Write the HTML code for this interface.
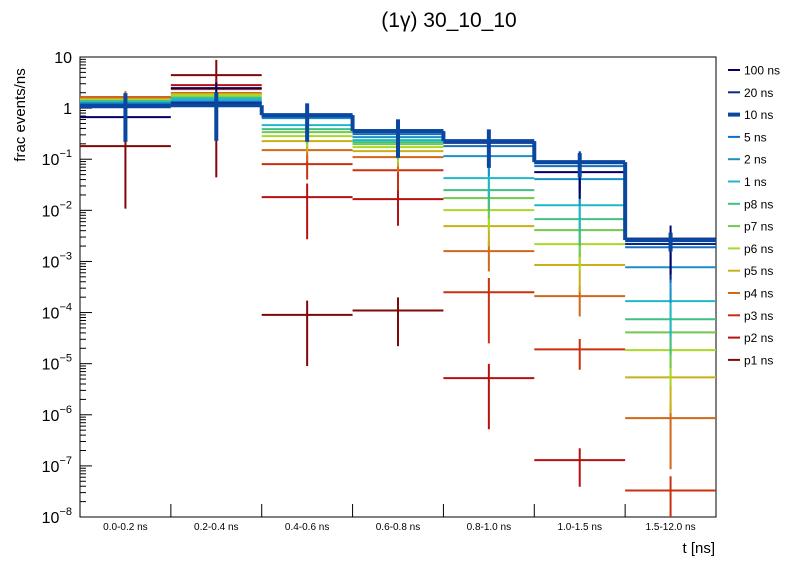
<!DOCTYPE html>
<html><head><meta charset="utf-8"><style>
body{margin:0;background:#fff;}
svg{display:block;font-family:"Liberation Sans",sans-serif;}
</style></head><body>
<svg id="chart" width="796" height="572" viewBox="0 0 796 572">
<text x="449" y="27" font-size="21" text-anchor="middle">(1γ) 30_10_10</text>
<text transform="translate(25,115) rotate(-90)" font-size="15" text-anchor="middle">frac events/ns</text>
<text x="715" y="553" font-size="15" text-anchor="end">t [ns]</text>
<g id="axes"></g>
<g id="marks"></g>
<g id="legend"></g>
</svg>
<script>
const categories = ["0.0-0.2 ns","0.2-0.4 ns","0.4-0.6 ns","0.6-0.8 ns","0.8-1.0 ns","1.0-1.5 ns","1.5-12.0 ns"];
const seriesNames = ["p1 ns","p2 ns","p3 ns","p4 ns","p5 ns","p6 ns","p7 ns","p8 ns","1 ns","2 ns","5 ns","20 ns","100 ns","10 ns"];
const seriesColors = ["#7f0808","#b81010","#c83010","#d06818","#c8b018","#a8d828","#70c850","#40c080","#20b8c8","#1a90c8","#1570c0","#0a2a88","#000066","#0a47a0"];
const v_p1 = [0.18,4.42,9e-5,1.1e-4,null,null,null];
const v_p2 = [1.57,2.82,0.0181,0.0166,5.2e-6,1.3e-7,null];
const v_p3 = [1.64,2.35,0.080,0.061,2.5e-4,1.9e-5,3.3e-8];
const v_p4 = [1.60,1.97,0.151,0.110,0.00159,2.1e-4,8.6e-7];
const v_p5 = [1.50,1.88,0.226,0.144,0.0049,8.5e-4,5.4e-6];
const v_p6 = [1.43,1.80,0.283,0.172,0.0101,0.00218,1.84e-5];
const v_p7 = [1.37,1.64,0.339,0.197,0.0173,0.0041,4.1e-5];
const v_p8 = [1.37,1.57,0.388,0.216,0.0248,0.00673,7.4e-5];
const v_1ns = [1.31,1.50,0.465,0.237,0.0427,0.0126,1.67e-4];
const v_2ns = [1.25,1.37,0.637,0.27,0.115,0.0408,7.7e-4];
const v_5ns = [1.20,1.31,0.667,0.31,0.180,0.0733,0.0019];
const v_20ns = [1.14,1.25,0.72,0.37,0.22,0.084,0.0022];
const v_100ns = [0.667,2.46,0.72,0.36,0.21,0.056,0.0028];
const v_10ns = [1.09,1.14,0.73,0.355,0.226,0.0878,0.00261];
const e_p1 = [0.94,0.99,0.9,0.8,0,0,0];
const e_p2 = [0.3,0.3,0.85,0.7,0.9,0.7,0];
const e_p3 = [0.3,0.3,0.5,0.6,0.9,0.6,0.9];
const e_p4 = [0.3,0.3,0.4,0.5,0.6,0.6,0.9];
const e_def = [0.3,0.3,0.4,0.5,0.6,0.7,0.8];
const e_10ns = [0.8,0.8,0.7,0.7,0.7,0.5,0.4];
const seriesValues = [v_p1,v_p2,v_p3,v_p4,v_p5,v_p6,v_p7,v_p8,v_1ns,v_2ns,v_5ns,v_20ns,v_100ns,v_10ns];
const seriesErr = [e_p1,e_p2,e_p3,e_p4,e_def,e_def,e_def,e_def,e_def,e_def,e_def,e_def,e_def,e_10ns];
const yTickExps = [1,0,-1,-2,-3,-4,-5,-6,-7,-8];
const legendOrder = ["100 ns","20 ns","10 ns","5 ns","2 ns","1 ns","p8 ns","p7 ns","p6 ns","p5 ns","p4 ns","p3 ns","p2 ns","p1 ns"];

const NS="http://www.w3.org/2000/svg";
const X0=80,X1=716,Y0=517,Y1=57,EMIN=-8,EMAX=1;
function xScale(i){return X0+(X1-X0)*i/categories.length;}
function yScale(v){return Y0-(Math.log10(v)-EMIN)/(EMAX-EMIN)*(Y0-Y1);}
function mk(tag,attrs,parent){const e=document.createElementNS(NS,tag);for(const k in attrs)e.setAttribute(k,attrs[k]);parent.appendChild(e);return e;}
const axes=document.getElementById('axes'),marks=document.getElementById('marks'),legend=document.getElementById('legend');

// frame
let fr=mk('rect',{x:X0,y:Y1,width:X1-X0,height:Y0-Y1,fill:'none',stroke:'#000','stroke-width':1},axes);


// y ticks
yTickExps.forEach(e=>{
  const y=yScale(Math.pow(10,e));
  const t=mk('line',{x1:X0,x2:X0+12,y1:y,y2:y,stroke:'#000'},axes);
  
  
  const lab=mk('text',{x:72,y:y+6,'font-size':16,'text-anchor':'end'},axes);
  
  
  if(e===1)lab.textContent='10';else if(e===0)lab.textContent='1';
  else{lab.textContent='10';const s=mk('tspan',{dy:-8,'font-size':11},lab);s.textContent='\u2212'+(-e);}
  if(e>EMIN){for(let m=2;m<=9;m++){const ym=yScale(m*Math.pow(10,e-1));
    const mt=mk('line',{x1:X0,x2:X0+6,y1:ym,y2:ym,stroke:'#000'},axes);
    
    }}
});
// x ticks & labels
for(let i=0;i<=categories.length;i++){
  const x=xScale(i);
  const t=mk('line',{x1:x,x2:x,y1:Y0,y2:Y0-13,stroke:'#000'},axes);
  
  
}
categories.forEach((c,i)=>{
  const l=mk('text',{x:(xScale(i)+xScale(i+1))/2,y:530,'font-size':10,'text-anchor':'middle'},axes);
  l.textContent=c;
  
  
});
// series
seriesValues.forEach((vals,s)=>{
  const g=mk('g',{},marks);
  
  
  const thick=seriesNames[s]==='10 ns';
  const w=thick?4:2, col=seriesColors[s];
  vals.forEach((v,i)=>{
    if(v===null)return;
    const y=yScale(v), xa=xScale(i), xb=xScale(i+1), xc=(xa+xb)/2;
    const h=mk('line',{x1:xa,x2:xb,y1:y,y2:y,stroke:col,'stroke-width':w},g);
    
    
    const r=seriesErr[s][i];
    if(r>0){
      const hi=v*(1+r), lo=Math.max(v*(1-r),v*0.003);
      const eb=mk('line',{x1:xc,x2:xc,y1:Math.max(yScale(hi),Y1),y2:Math.min(yScale(lo),Y0),stroke:col,'stroke-width':w},g);
      
      
    }
    if(thick&&i>0&&vals[i-1]!==null){
      const c=mk('line',{x1:xa,x2:xa,y1:yScale(vals[i-1]),y2:y,stroke:col,'stroke-width':w},g);
      
      
    }
  });
});
// legend
legendOrder.forEach((n,k)=>{
  const s=seriesNames.indexOf(n), y=70+k*22.3;
  const g=mk('g',{},legend);
  
  
  mk('line',{x1:728,x2:740,y1:y,y2:y,stroke:seriesColors[s],'stroke-width':n==='10 ns'?4:2},g);
  const t=mk('text',{x:744,y:y+4.5,'font-size':12},g);
  t.textContent=n;
});
</script>
</body></html>
